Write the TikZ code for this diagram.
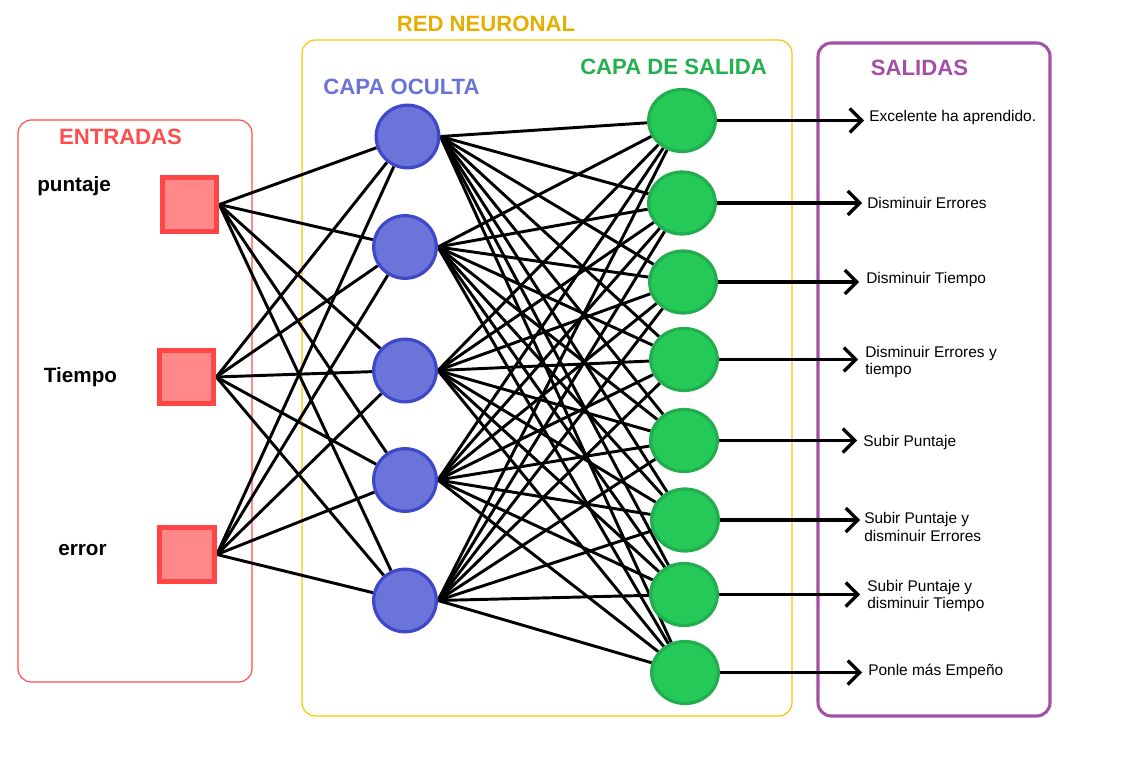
\documentclass[tikz,border=0pt]{standalone}
\usepackage{fontspec}
\setmainfont{Liberation Sans}
\usetikzlibrary{arrows.meta,shapes.geometric,backgrounds}
\definecolor{redframe}{HTML}{FF4D4D}
\definecolor{sqfill}{HTML}{FF8888}
\definecolor{sqborder}{HTML}{FF4545}
\definecolor{yelframe}{HTML}{F7C600}
\definecolor{yeltitle}{HTML}{E6AE00}
\definecolor{hidfill}{HTML}{6B74D8}
\definecolor{hidborder}{HTML}{3F48C9}
\definecolor{hidtitle}{HTML}{6B73D9}
\definecolor{outfill}{HTML}{24C958}
\definecolor{outborder}{HTML}{22AD4E}
\definecolor{outtitle}{HTML}{23B04E}
\definecolor{purframe}{HTML}{A34FA6}
\begin{document}
\begin{tikzpicture}[x=0.75pt,y=-0.75pt,
  inbox/.style={rectangle, draw=sqborder, fill=sqfill, line width=3.75pt, minimum width=41pt, minimum height=40pt, inner sep=0pt},
  hid/.style={circle, draw=hidborder, fill=hidfill, line width=2.4pt, minimum size=47pt, inner sep=0pt},
  outn/.style={ellipse, draw=outborder, fill=outfill, line width=2.4pt, minimum width=50pt, minimum height=46.5pt, inner sep=0pt},
  conn/.style={line width=2.2pt, black},
  outarrow/.style={line width=2.3pt, black, -{Straight Barb[length=9pt,width=18pt,line width=2.4pt]}},
  title/.style={font=\fontsize{16.6}{19}\selectfont\bfseries, anchor=base, inner sep=0pt},
  inlabel/.style={font=\fontsize{15.5}{18}\selectfont\bfseries, anchor=base, inner sep=0pt},
  outtxt/.style={font=\fontsize{11.6}{12.8}\selectfont, anchor=west, align=left, inner sep=0pt},
  frame/.style={rounded corners=10pt}
]
\useasboundingbox (0,0) rectangle (1148,766);

% input squares
\node[inbox] (in1) at (189.5,204.5) {};
\node[inbox] (in2) at (186.5,377) {};
\node[inbox] (in3) at (187,554.5) {};

% hidden layer
\node[hid] (h1) at (407.5,136.5) {};
\node[hid] (h2) at (405,247) {};
\node[hid] (h3) at (405,370.5) {};
\node[hid] (h4) at (405,480) {};
\node[hid] (h5) at (405,600.5) {};

% output layer
\node[outn] (o1) at (682,120.5) {};
\node[outn] (o2) at (682,203) {};
\node[outn] (o3) at (683,282) {};
\node[outn] (o4) at (684,359.5) {};
\node[outn] (o5) at (684,440.5) {};
\node[outn] (o6) at (685,520) {};
\node[outn] (o7) at (684,594.5) {};
\node[outn] (o8) at (685,672.5) {};

\begin{scope}[on background layer]
  % frames
  \draw[frame, draw=redframe, line width=0.9pt] (18,120) rectangle (252,682);
  \draw[frame, draw=yelframe, line width=0.9pt] (302,40) rectangle (792,716);
  \draw[frame, draw=purframe, line width=2.3pt] (818,43) rectangle (1050,716);
  % connections
  \foreach \i in {1,2,3}
    \foreach \j in {1,...,5}
      \draw[conn] (in\i.east) -- (h\j);
  \foreach \j in {1,...,5}
    \foreach \k in {1,...,8}
      \draw[conn] (h\j.east) -- (o\k);
\end{scope}

% arrow ends
\coordinate (t1) at (864,120.5);
\coordinate (t2) at (862,203);
\coordinate (t3) at (859,282);
\coordinate (t4) at (858,359.5);
\coordinate (t5) at (857,440.5);
\coordinate (t6) at (860,520);
\coordinate (t7) at (860,594.5);
\coordinate (t8) at (862,672.5);
\foreach \k in {1,...,8}
  \draw[outarrow] (o\k.east) -- (t\k);

% titles
\node[title, text=yeltitle] (tred) at (486,32) {RED NEURONAL};
\node[title, text=redframe] (tent) at (120.5,145) {ENTRADAS};
\node[title, text=hidtitle] (thid) at (401.5,95) {CAPA OCULTA};
\node[title, text=outtitle] (tout) at (673.5,75) {CAPA DE SALIDA};
\node[title, text=purframe] (tsal) at (919.5,76) {SALIDAS};

% input labels
\node[inlabel] (l1) at (74,192) {puntaje};
\node[inlabel] (l2) at (80.5,382) {Tiempo};
\node[inlabel] (l3) at (82.5,555) {error};

% output texts
\node[outtxt] (s1) at (869,118) {Excelente ha aprendido.};
\node[outtxt] (s2) at (867,203) {Disminuir Errores};
\node[outtxt] (s3) at (866,280) {Disminuir Tiempo};
\node[outtxt] (s4) at (865,362) {Disminuir Errores y\\tiempo};
\node[outtxt] (s5) at (863,442) {Subir Puntaje};
\node[outtxt] (s6) at (864,527) {Subir Puntaje y\\disminuir Errores};
\node[outtxt] (s7) at (867,596) {Subir Puntaje y\\disminuir Tiempo};
\node[outtxt] (s8) at (868,671) {Ponle más Empeño};
\end{tikzpicture}
\end{document}
